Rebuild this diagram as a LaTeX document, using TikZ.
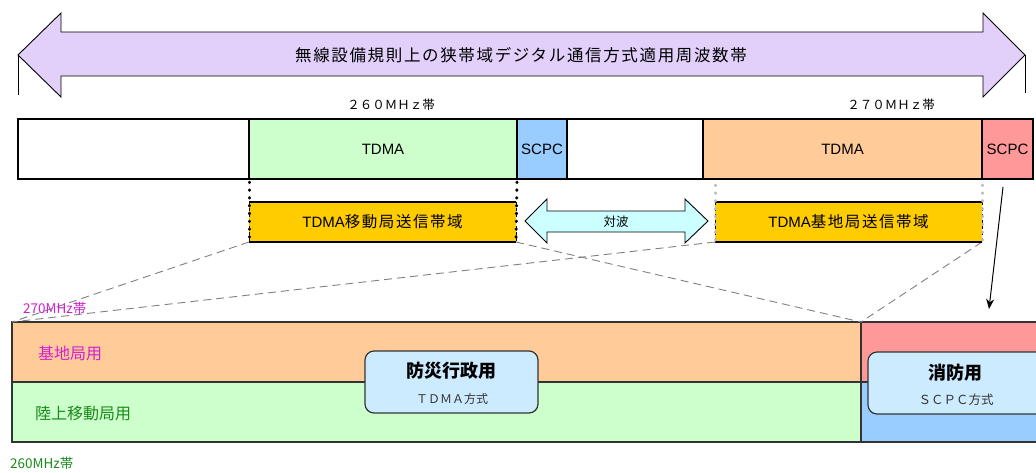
\documentclass[tikz,border=0pt]{standalone}
\usepackage{fontspec}
\setmainfont{Liberation Sans}
\newfontfamily\jp{Noto Sans CJK JP}
\newfontfamily\jps[LetterSpace=10]{Noto Sans CJK JP}
\usetikzlibrary{arrows.meta}
\definecolor{lav}{HTML}{E2D0FB}
\definecolor{lgreen}{HTML}{CCFFCC}
\definecolor{lblue}{HTML}{99CCFF}
\definecolor{lorange}{HTML}{FFCC99}
\definecolor{lred}{HTML}{FF9999}
\definecolor{yel}{HTML}{FFCC00}
\definecolor{lcyan}{HTML}{CCFFFF}
\definecolor{pale}{HTML}{CCEBFF}
\definecolor{mag}{HTML}{D020D0}
\definecolor{dgreen}{HTML}{1A8A1A}
\definecolor{dk}{HTML}{333333}
\definecolor{dashgray}{HTML}{808080}
\definecolor{dotgray}{HTML}{BBBBBB}
\begin{document}
\begin{tikzpicture}[x=1pt,y=-1pt,
  seg/.style={draw=black,line width=1.3pt,inner sep=0pt,outer sep=0pt,anchor=north west,minimum height=60pt},
  bseg/.style={draw=dk,line width=1.3pt,inner sep=0pt,outer sep=0pt,anchor=north west,minimum height=60pt},
  ybox/.style={fill=yel,inner sep=0pt,outer sep=0pt,anchor=north west,minimum height=40pt},
  rbox/.style={draw=dk,fill=pale,line width=1.2pt,rounded corners=9pt,inner sep=0pt,outer sep=0pt,anchor=north west,minimum height=62pt},
  lat/.style={font=\fontsize{15}{15}\selectfont},
  dotline/.style={line width=3pt,line cap=round,dash pattern=on 0.6pt off 7.2pt},
  guide/.style={dashgray,line width=0.9pt,dash pattern=on 8pt off 5pt},
  txt/.style={inner sep=0pt}
]
\useasboundingbox (0,0) rectangle (1036,472);
\clip (0,0) rectangle (1036,472);

% big double arrow
\draw[fill=lav,draw=black,line width=0.9pt] (18,55) -- (61,13) -- (61,32) -- (983,32) -- (983,13) -- (1025,55)
  -- (983,97) -- (983,76) -- (61,76) -- (61,97) -- cycle;
\draw[line width=0.9pt] (18,55) -- (18,95);
\draw[line width=0.9pt] (1025,55) -- (1025,93);
\node[txt,font=\jps\fontsize{16.5}{16.5}\selectfont] (title) at (521,55) {無線設備規則上の狭帯域デジタル通信方式適用周波数帯};

\node[txt,font=\jp\fontsize{12.5}{12.5}\selectfont] (f260) at (391,105) {２６０ＭＨｚ帯};
\node[txt,font=\jp\fontsize{12.5}{12.5}\selectfont] (f270) at (891,105) {２７０ＭＨｚ帯};

% top band
\node[seg,fill=white,minimum width=231pt] (w1) at (18,119) {};
\node[seg,fill=lgreen,minimum width=268pt,lat] (g) at (249,119) {TDMA};
\node[seg,fill=lblue,minimum width=50pt,lat] (bl) at (517,119) {SCPC};
\node[seg,fill=white,minimum width=136pt] (w2) at (567,119) {};
\node[seg,fill=lorange,minimum width=279pt,lat] (o) at (703,119) {TDMA};
\node[seg,fill=lred,minimum width=51pt,lat] (r) at (982,119) {SCPC};

% bottom block
\node[bseg,fill=lorange,minimum width=849pt] (bo) at (12,322) {};
\node[bseg,fill=lgreen,minimum width=849pt] (bg) at (12,382) {};
\node[bseg,fill=lred,minimum width=190pt] (br) at (861,322) {};
\node[bseg,fill=lblue,minimum width=190pt] (bb) at (861,382) {};

% guide dashed lines
\node[ybox,minimum width=267pt] (m) at (249,202) {};
\node[ybox,minimum width=267pt] (b) at (715,202) {};
\draw[guide] (m.south west) -- (bo.north west);
\draw[guide] (b.south west) -- (bo.north west);
\draw[guide] (m.south east) -- (br.north west);
\draw[guide] (b.south east) -- (br.north west);

% yellow boxes
\node[txt,font=\fontsize{15}{15}\selectfont] (mt) at (m.center) {TDMA{\jps\fontsize{15.5}{15.5}\selectfont 移動局送信帯域}};
\node[txt,font=\fontsize{15}{15}\selectfont] (bt) at (b.center) {TDMA{\jps\fontsize{15.5}{15.5}\selectfont 基地局送信帯域}};
\draw[line width=1.3pt] (m.north west) -- (m.north east) (m.south west) -- (m.south east);
\draw[line width=1.3pt] (b.north west) -- (b.north east) (b.south west) -- (b.south east);
\draw[line width=1pt,dashed] (m.north west) -- (m.south west) (m.north east) -- (m.south east);
\draw[line width=1pt,dashed] (b.north west) -- (b.south west) (b.north east) -- (b.south east);
\draw[dotline,black] (g.south west) ++(0,3) -- (m.south west);
\draw[dotline,black] (g.south east) ++(0,3) -- (m.south east);
\draw[dotline,dotgray] (b.south west |- o.south) ++(0,6) -- (b.south west);
\draw[dotline,dotgray] (o.south east) ++(0,6) -- (b.south east);

% 対波 arrow
\draw[fill=lcyan,draw=black,line width=0.9pt] (525,221) -- (547,199) -- (547,211) -- (685,211) -- (685,199) -- (708,221)
  -- (685,243) -- (685,232) -- (547,232) -- (547,243) -- cycle;
\node[txt,font=\jp\fontsize{12.5}{12.5}\selectfont] (taiha) at (616,222) {対波};

% arrow from SCPC
\coordinate (as) at (1003,187);
\coordinate (ae) at (989,309);
\draw[line width=1pt,-{Stealth[length=10pt,width=8pt]}] (as) -- (ae);

% bottom labels
\node[txt,anchor=west,text=mag,font=\jp\fontsize{13.5}{13.5}\selectfont] (l270) at (23,308) {270MHz帯};
\node[txt,anchor=west,text=mag,font=\jp\fontsize{16}{16}\selectfont] (kichi) at (38,353) {基地局用};
\node[txt,anchor=west,text=dgreen,font=\jp\fontsize{16}{16}\selectfont] (rikujo) at (35,413) {陸上移動局用};
\node[txt,anchor=west,text=dgreen,font=\jp\fontsize{13.5}{13.5}\selectfont] (l260) at (10,463) {260MHz帯};

% rounded boxes
\node[rbox,minimum width=173pt] (bousai) at (365,351) {};
\node[txt,font=\jp\bfseries\fontsize{18}{18}\selectfont] (bousait) at (451,371) {防災行政用};
\node[txt,text=dk,font=\jp\fontsize{12}{12}\selectfont] (bousais) at (452,399) {ＴＤＭＡ方式};
\node[rbox,minimum width=178pt] (shobo) at (868,352) {};
\node[txt,font=\jp\bfseries\fontsize{18}{18}\selectfont] (shobot) at (955,373) {消防用};
\node[txt,text=dk,font=\jp\fontsize{12.5}{12.5}\selectfont] (shobos) at (956,400) {ＳＣＰＣ方式};
\end{tikzpicture}
\end{document}
